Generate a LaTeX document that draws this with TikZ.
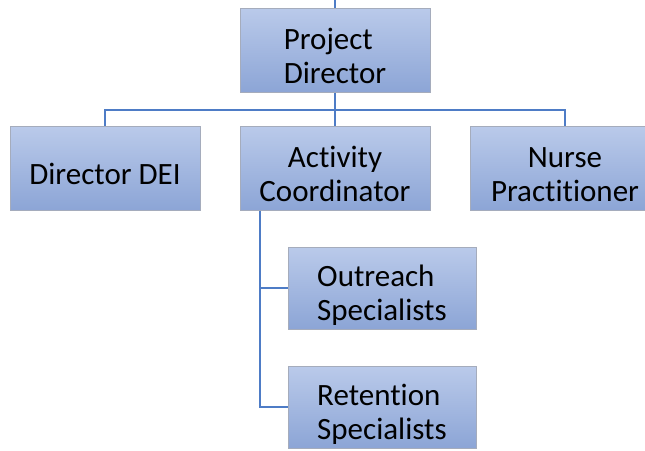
\documentclass[tikz,border=0pt]{standalone}
\usepackage{fontspec}
\setmainfont{Carlito}[Ligatures=NoCommon]
\definecolor{boxtop}{RGB}{186,202,234}
\definecolor{boxbottom}{RGB}{140,165,214}
\definecolor{boxedge}{RGB}{165,172,188}
\definecolor{linkblue}{RGB}{78,124,198}
\begin{document}
\begin{tikzpicture}[
    x=1pt, y=-1pt,
    box/.style={draw=boxedge, line width=1pt, top color=boxtop, bottom color=boxbottom,
        minimum width=190pt, inner xsep=2pt, inner ysep=2pt,
        text height=73pt, text depth=7pt, align=center,
        font=\fontsize{31}{34}\selectfont, text=black},
    subbox/.style={box, minimum width=188pt, text height=71pt, align=left},
    link/.style={draw=linkblue, line width=1.8pt}
]
\useasboundingbox (0,0) rectangle (645,450);
\node[box, align=left] (pd) at (335,50) {Project\\Director};
\node[box, text height=56pt, text depth=24pt] (dei) at (105,168) {Director DEI};
\node[box] (ac) at (335,168) {Activity\\Coordinator};
\node[box] (np) at (565,168) {Nurse\\Practitioner};
\node[subbox] (out) at (382,288) {Outreach\\Specialists};
\node[subbox] (ret) at (382,407) {Retention\\Specialists};
\coordinate (top) at (335,0);
\coordinate (bus) at (335,110);
% top level
\draw[link] (top) -- (pd.north);
\draw[link] (pd.south) -- (bus);
\draw[link] (dei.north) |- (bus) -| (np.north);
\draw[link] (bus) -- (ac.north);
% under the coordinator
\draw[link] ([xshift=-75pt]ac.south) |- (out.west);
\draw[link] ([xshift=-75pt]ac.south) |- (ret.west);
\end{tikzpicture}
\end{document}
